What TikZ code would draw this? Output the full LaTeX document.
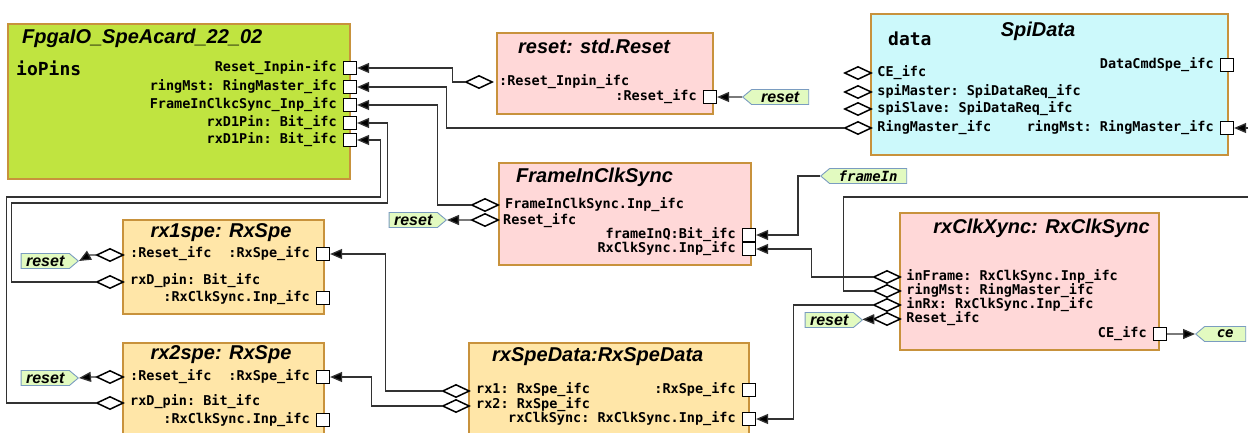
\documentclass[tikz,border=0pt]{standalone}
\usepackage{fontspec}
\setsansfont{Liberation Sans}
\setmonofont{DejaVu Sans Mono}
\usepackage{xcolor}
\usepackage{tikz}
\usetikzlibrary{
    positioning,
    arrows.meta,
    shapes.geometric,
    shapes.symbols
}
\definecolor{boxbrown}{RGB}{200,146,60}
\definecolor{fpgagreen}{RGB}{192,228,64}
\definecolor{blockpink}{RGB}{255,216,216}
\definecolor{blockcyan}{RGB}{204,249,251}
\definecolor{blockwheat}{RGB}{255,230,168}
\definecolor{taggreen}{RGB}{226,250,192}
\definecolor{tagblue}{RGB}{122,156,192}
\definecolor{wiregray}{RGB}{50,50,50}
\tikzset{
    uml_box/.style={
        rectangle, draw=boxbrown, line width=1.6pt,
        anchor=north west, inner sep=0pt
    },
    box_title/.style={
        font=\sffamily\bfseries\itshape\fontsize{20}{22}\selectfont, inner sep=0pt
    },
    inst_name/.style={
        font=\ttfamily\bfseries\fontsize{18}{20}\selectfont, inner sep=0pt
    },
    port_lbl/.style={
        font=\ttfamily\bfseries\fontsize{13.5}{15}\selectfont, inner sep=0pt
    },
    port_sq/.style={
        rectangle, draw=black, fill=white, line width=1.2pt,
        minimum size=13pt, inner sep=0pt
    },
    port_dia/.style={
        diamond, draw=black, fill=white, line width=1.5pt,
        minimum width=27pt, minimum height=13pt, inner sep=0pt
    },
    sig_tag/.style={
        signal, draw=tagblue, fill=taggreen, line width=0.9pt,
        signal pointer angle=80, minimum height=15pt, inner ysep=0pt, inner xsep=5pt,
        font=\sffamily\bfseries\itshape\fontsize{16}{17}\selectfont
    },
    sig_tag_tt/.style={
        sig_tag, font=\ttfamily\bfseries\itshape\fontsize{14}{15}\selectfont
    },
    wire/.style={
        draw=wiregray, line width=1.3pt
    },
    wire_arrow/.style={
        wire, -{Triangle[length=12pt, width=10pt, fill=black]}
    }
}
\begin{document}
\begin{tikzpicture}[x=1pt, y=-1pt]
    \useasboundingbox (0,0) rectangle (1248,432);

    % FPGA IO BLOCK
    \node[uml_box, fill=fpgagreen, minimum width=342pt, minimum height=155pt] (fpga) at (7,23) {};
    \node[box_title, anchor=west] (fpga_title) at (22,38) {FpgaIO\_SpeAcard\_22\_02};
    \node[inst_name, anchor=west] (fpga_inst) at (16,68) {ioPins};
    \foreach \n/\y in {1/68, 2/87, 3/105, 4/123, 5/140}
        \node[port_sq] (fpga_p\n) at (350,\y) {};
    \node[port_lbl, left=6pt of fpga_p1] (fpga_l1) {Reset\_Inpin-ifc};
    \node[port_lbl, left=6pt of fpga_p2] (fpga_l2) {ringMst: RingMaster\_ifc};
    \node[port_lbl, left=6pt of fpga_p3] (fpga_l3) {FrameInClkcSync\_Inp\_ifc};
    \node[port_lbl, left=6pt of fpga_p4] (fpga_l4) {rxD1Pin: Bit\_ifc};
    \node[port_lbl, left=6pt of fpga_p5] (fpga_l5) {rxD1Pin: Bit\_ifc};

    % RESET
    \node[uml_box, fill=blockpink, minimum width=216pt, minimum height=81pt] (rst_blk) at (496,32) {};
    \node[box_title, anchor=west] (rst_title) at (518,46) {reset: std.Reset};
    \node[port_dia] (rst_in) at (479,82) {};
    \node[port_lbl, anchor=west] (rst_in_l) at (499,82) {:Reset\_Inpin\_ifc};
    \node[port_sq] (rst_out) at (710,97) {};
    \node[port_lbl, left=6pt of rst_out] (rst_out_l) {:Reset\_ifc};
    \node[sig_tag, signal to=west, minimum width=66pt, anchor=west] (rst_tag) at (742,97) {reset};

    % SPI DATA
    \node[uml_box, fill=blockcyan, minimum width=357pt, minimum height=141pt] (spi_data) at (870,13) {};
    \node[box_title] (spi_title) at (1038,31) {SpiData};
    \node[inst_name, anchor=west] (spi_inst) at (888,39) {data};
    \node[port_dia] (spi_ce) at (858,73) {};
    \node[port_dia] (spi_mst) at (858,92) {};
    \node[port_dia] (spi_slv) at (858,109) {};
    \node[port_dia] (spi_ring) at (858,128) {};
    \node[port_lbl, right=5pt of spi_ce] (spi_ce_l) {CE\_ifc};
    \node[port_lbl, right=5pt of spi_mst] (spi_mst_l) {spiMaster: SpiDataReq\_ifc};
    \node[port_lbl, right=5pt of spi_slv] (spi_slv_l) {spiSlave: SpiDataReq\_ifc};
    \node[port_lbl, right=5pt of spi_ring] (spi_ring_l) {RingMaster\_ifc};
    \node[port_sq] (spi_cmd) at (1227,65) {};
    \node[port_sq] (spi_ring_out) at (1227,128) {};
    \node[port_lbl, left=6pt of spi_cmd] (spi_cmd_l) {DataCmdSpe\_ifc};
    \node[port_lbl, left=6pt of spi_ring_out] (spi_ring_out_l) {ringMst: RingMaster\_ifc};

    % FRAME IN CLK SYNC
    \node[uml_box, fill=blockpink, minimum width=252pt, minimum height=102pt] (frm_sync) at (498,162) {};
    \node[box_title, anchor=west] (frm_title) at (516,177) {FrameInClkSync};
    \node[port_dia] (frm_in) at (485,205) {};
    \node[port_dia] (frm_rst) at (485,220) {};
    \node[port_lbl, anchor=west] (frm_in_l) at (505,205) {FrameInClkSync.Inp\_ifc};
    \node[port_lbl, anchor=west] (frm_rst_l) at (503,221) {Reset\_ifc};
    \node[port_sq] (frm_q) at (749,235) {};
    \node[port_sq] (frm_rx) at (749,249) {};
    \node[port_lbl, left=6pt of frm_q] (frm_q_l) {frameInQ:Bit\_ifc};
    \node[port_lbl, left=6pt of frm_rx] (frm_rx_l) {RxClkSync.Inp\_ifc};
    \node[sig_tag, signal to=east, minimum width=57pt, anchor=east] (frm_rst_tag) at (447,220) {reset};
    \node[sig_tag_tt, signal to=west, minimum width=86pt, anchor=west] (frame_in_tag) at (820,176) {frameIn};

    % RX CLK SYNC
    \node[uml_box, fill=blockpink, minimum width=259pt, minimum height=137pt] (rx_clk) at (899,212) {};
    \node[box_title, anchor=east] (clk_title) at (1150,228) {rxClkXync: RxClkSync};
    \node[port_dia] (clk_inf) at (887,277) {};
    \node[port_dia] (clk_ring) at (887,291) {};
    \node[port_dia] (clk_inrx) at (887,305) {};
    \node[port_dia] (clk_rst) at (887,319) {};
    \node[port_lbl, right=5pt of clk_inf] (clk_inf_l) {inFrame: RxClkSync.Inp\_ifc};
    \node[port_lbl, right=5pt of clk_ring] (clk_ring_l) {ringMst: RingMaster\_ifc};
    \node[port_lbl, right=5pt of clk_inrx] (clk_inrx_l) {inRx: RxClkSync.Inp\_ifc};
    \node[port_lbl, right=5pt of clk_rst] (clk_rst_l) {Reset\_ifc};
    \node[port_sq] (clk_ce) at (1160,334) {};
    \node[port_lbl, left=6pt of clk_ce] (clk_ce_l) {CE\_ifc};
    \node[sig_tag, signal to=east, minimum width=57pt, anchor=east] (clk_rst_tag) at (863,320) {reset};
    \node[sig_tag_tt, signal to=west, minimum width=50pt, anchor=west] (ce_tag) at (1195,334) {ce};

    % RX SPE 1
    \node[uml_box, fill=blockwheat, minimum width=201pt, minimum height=94pt] (rx1) at (122,219) {};
    \node[box_title] (rx1_title) at (221,233) {rx1spe: RxSpe};
    \node[port_dia] (rx1_rst) at (110,255) {};
    \node[port_dia] (rx1_d) at (110,282) {};
    \node[port_lbl, anchor=west] (rx1_rst_l) at (130,254) {:Reset\_ifc};
    \node[port_lbl, anchor=west] (rx1_d_l) at (130,281) {rxD\_pin: Bit\_ifc};
    \node[port_sq] (rx1_out) at (323,254) {};
    \node[port_sq] (rx1_clk) at (323,298) {};
    \node[port_lbl, left=6pt of rx1_out] (rx1_out_l) {:RxSpe\_ifc};
    \node[port_lbl, left=6pt of rx1_clk] (rx1_clk_l) {:RxClkSync.Inp\_ifc};
    \node[sig_tag, signal to=east, minimum width=57pt, anchor=east] (rx1_rst_tag) at (79,261) {reset};

    % RX SPE 2
    \node[uml_box, fill=blockwheat, minimum width=201pt, minimum height=100pt] (rx2) at (122,342) {};
    \node[box_title] (rx2_title) at (221,355) {rx2spe: RxSpe};
    \node[port_dia] (rx2_rst) at (110,377) {};
    \node[port_dia] (rx2_d) at (110,403) {};
    \node[port_lbl, anchor=west] (rx2_rst_l) at (130,377) {:Reset\_ifc};
    \node[port_lbl, anchor=west] (rx2_d_l) at (130,402) {rxD\_pin: Bit\_ifc};
    \node[port_sq] (rx2_out) at (323,377) {};
    \node[port_sq] (rx2_clk) at (323,420) {};
    \node[port_lbl, left=6pt of rx2_out] (rx2_out_l) {:RxSpe\_ifc};
    \node[port_lbl, left=6pt of rx2_clk] (rx2_clk_l) {:RxClkSync.Inp\_ifc};
    \node[sig_tag, signal to=east, minimum width=57pt, anchor=east] (rx2_rst_tag) at (79,378) {reset};

    % RX SPE DATA
    \node[uml_box, fill=blockwheat, minimum width=280pt, minimum height=100pt] (rx_data) at (468,342) {};
    \node[box_title, anchor=west] (data_title) at (492,357) {rxSpeData:RxSpeData};
    \node[port_dia] (data_rx1) at (456,391) {};
    \node[port_dia] (data_rx2) at (456,406) {};
    \node[port_lbl, anchor=west] (data_rx1_l) at (476,390) {rx1: RxSpe\_ifc};
    \node[port_lbl, anchor=west] (data_rx2_l) at (476,405) {rx2: RxSpe\_ifc};
    \node[port_sq] (data_out) at (749,390) {};
    \node[port_sq] (data_clk) at (749,419) {};
    \node[port_lbl, left=6pt of data_out] (data_out_l) {:RxSpe\_ifc};
    \node[port_lbl, left=6pt of data_clk] (data_clk_l) {rxClkSync: RxClkSync.Inp\_ifc};

    % free ends at the right edge
    \coordinate (spi_edge) at (1250,128);
    \coordinate (ring_edge) at (1250,197);

    % Connections
    % to FpgaIO pins
    \draw[wire_arrow] (rst_in.west) -- ++(-12,0) |- (fpga_p1.east);
    \draw[wire_arrow] (spi_ring.west) -- ++(-397,0) |- (fpga_p2.east);
    \draw[wire_arrow] (frm_in.west) -- ++(-33,0) |- (fpga_p3.east);
    \draw[wire_arrow] (rx1_d.west) -- ++(-84,0) -- ++(0,-79) -- ++(376,0) |- (fpga_p4.east);
    \draw[wire_arrow] (rx2_d.west) -- ++(-89,0) -- ++(0,-206) -- ++(374,0) |- (fpga_p5.east);

    % reset tags
    \draw[wire_arrow] (rst_tag) -- (rst_out);
    \draw[wire_arrow] (frm_rst) -- (frm_rst_tag);
    \draw[wire_arrow] (clk_rst) -- (clk_rst_tag);
    \draw[wire_arrow] (rx1_rst.west) -- ++(-6,0) -- (rx1_rst_tag.east);
    \draw[wire_arrow] (rx2_rst.west) -- ++(-6,0) -- (rx2_rst_tag.east);

    % frame sync and clock sync
    \draw[wire_arrow] (frame_in_tag.west) -- ++(-22,0) |- (frm_q.east);
    \draw[wire_arrow] (clk_inf.west) -- ++(-61,0) |- (frm_rx.east);
    \draw[wire_arrow] (clk_inrx.west) -- ++(-79,0) |- (data_clk.east);
    \draw[wire] (clk_ring.west) -- ++(-29,0) |- (ring_edge);
    \draw[wire_arrow] (spi_edge) -- (spi_ring_out.east);
    \draw[wire_arrow] (clk_ce) -- (ce_tag);

    % rx data
    \draw[wire_arrow] (data_rx1.west) -- ++(-56,0) |- (rx1_out.east);
    \draw[wire_arrow] (data_rx2.west) -- ++(-70,0) |- (rx2_out.east);

\end{tikzpicture}
\end{document}
